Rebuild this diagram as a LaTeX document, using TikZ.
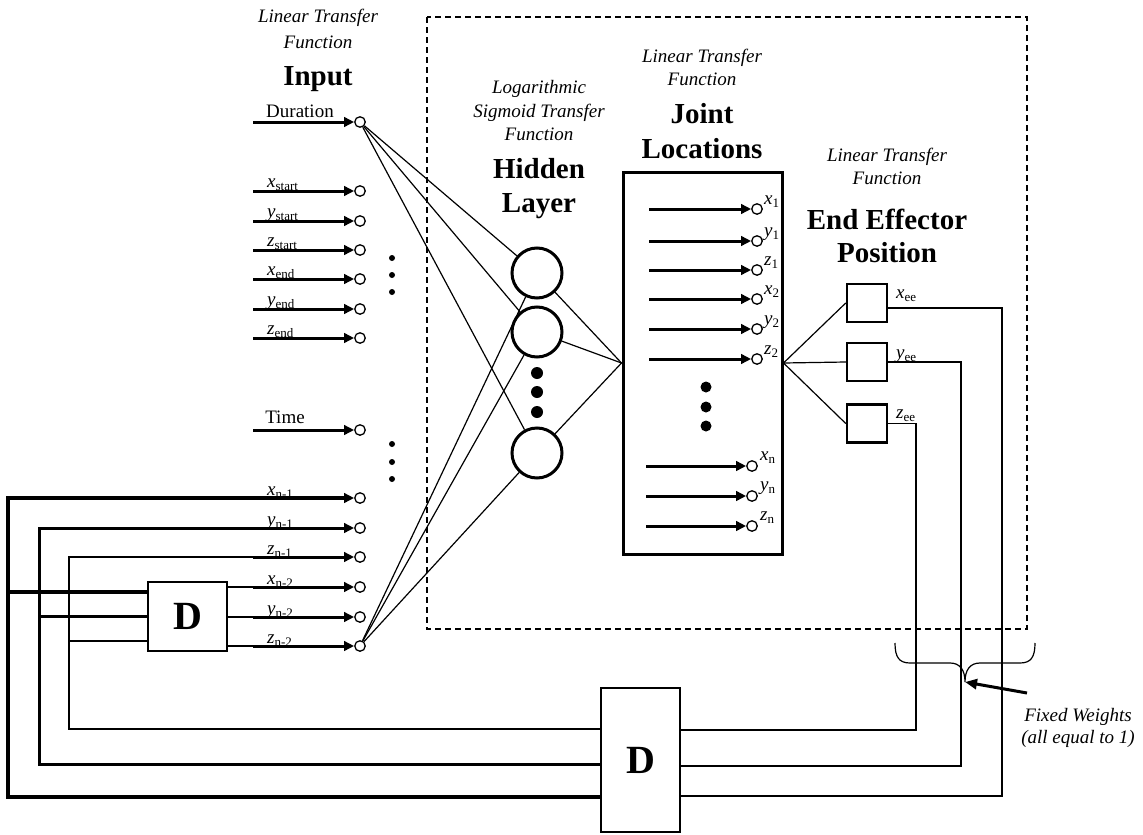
\documentclass[tikz,border=0pt]{standalone}
\usepackage{fontspec}
\setmainfont{Liberation Serif}
\usetikzlibrary{arrows.meta}
\newcommand\fsz[1]{\fontsize{#1}{#1}\selectfont}
\newcommand\vlab[2]{{\fsz{19}\itshape #1}\raisebox{-3pt}{\fsz{13}#2}}
\tikzset{
  thinln/.style={line width=1.2pt},
  medln/.style={line width=1.6pt},
  inarr/.style={line width=3pt,-{Triangle[length=10pt,width=9.5pt]}},
  smallc/.style={circle,draw,line width=1.3pt,minimum size=10.5pt,inner sep=0pt},
  hidc/.style={circle,draw,line width=3pt,minimum size=50pt,inner sep=0pt},
  eeb/.style={draw,line width=2.5pt,minimum width=40pt,minimum height=38pt,inner sep=0pt},
  dbox/.style={draw,line width=1.2pt,inner sep=0pt,font=\fsz{40}\bfseries},
  ital/.style={font=\fsz{19}\itshape,inner sep=0pt,anchor=base},
  head/.style={font=\fsz{29}\bfseries,inner sep=0pt,anchor=base},
  lab/.style={font=\fsz{19},inner sep=0pt,anchor=base west},
  dotb/.style={circle,fill,inner sep=0pt,minimum size=#1},
}
\begin{document}
\begin{tikzpicture}[x=1pt,y=-1pt]
\useasboundingbox (0,0) rectangle (1143,835);

% dashed group box
\draw[line width=2pt,dash pattern=on 6pt off 4pt] (427,17) rectangle (1027,629);

% headers
\node[ital] (t1a) at (318,23) {Linear Transfer};
\node[ital] (t1b) at (318,48) {Function};
\node[head] (t1c) at (318,85) {Input};
\node[ital] (t2a) at (539,93) {Logarithmic};
\node[ital] (t2b) at (539,117) {Sigmoid Transfer};
\node[ital] (t2c) at (539,140) {Function};
\node[head] (t2d) at (539,178) {Hidden};
\node[head] (t2e) at (539,212) {Layer};
\node[ital] (t3a) at (702,62) {Linear Transfer};
\node[ital] (t3b) at (702,85) {Function};
\node[head] (t3c) at (702,123) {Joint};
\node[head] (t3d) at (702,158) {Locations};
\node[ital] (t4a) at (887,161) {Linear Transfer};
\node[ital] (t4b) at (887,184) {Function};
\node[head] (t4c) at (887,229) {End Effector};
\node[head] (t4d) at (887,262) {Position};

% input circles and arrows
\foreach \n/\y in {dur/122,xs/191,ys/221,zs/250,xe/279,ye/309,ze/338,tm/430,ya/528,za/557,xb/587,yb/617,zb/646}{
  \node[smallc] (c\n) at (360,\y) {};
  \coordinate (s\n) at (253,\y);
  \draw[inarr] (s\n) -- (c\n);
}
\node[smallc] (cxa) at (360,498) {};
\coordinate (sxa) at (253,498);
\draw[line width=4pt,-{Triangle[length=10pt,width=9.5pt]}] (sxa) -- (cxa);

% input labels
\node[font=\fsz{19},inner sep=0pt,anchor=base] (ldur) at (300,117) {Duration};
\node[font=\fsz{19},inner sep=0pt,anchor=base] (ltm) at (285,423) {Time};
\node[lab] (lxs) at (267,187) {\vlab{x}{start}};
\node[lab] (lys) at (267,217) {\vlab{y}{start}};
\node[lab] (lzs) at (267,246) {\vlab{z}{start}};
\node[lab] (lxe) at (267,275) {\vlab{x}{end}};
\node[lab] (lye) at (267,305) {\vlab{y}{end}};
\node[lab] (lze) at (267,334) {\vlab{z}{end}};
\node[lab] (lxa) at (267,495) {\vlab{x}{n-1}};
\node[lab] (lya) at (267,525) {\vlab{y}{n-1}};
\node[lab] (lza) at (267,554) {\vlab{z}{n-1}};
\node[lab] (lxb) at (267,584) {\vlab{x}{n-2}};
\node[lab] (lyb) at (267,614) {\vlab{y}{n-2}};
\node[lab] (lzb) at (267,643) {\vlab{z}{n-2}};

% input dots
\foreach \y [count=\i] in {258,275,292,444,462,479}{\node[dotb=6pt] (idot\i) at (392,\y) {};}

% hidden layer
\node[hidc] (h1) at (537,273) {};
\node[hidc] (h2) at (537,332) {};
\node[hidc] (h3) at (537,453) {};
\foreach \y [count=\i] in {373,392,412}{\node[dotb=12pt] (hdot\i) at (537,\y) {};}

% joint box
\node[draw,line width=3pt,minimum width=159pt,minimum height=382pt,inner sep=0pt] (jb) at (702.5,363) {};
\foreach \n/\y/\v/\s in {x1/209/x/1,y1/241/y/1,z1/270/z/1,x2/299/x/2,y2/329/y/2,z2/359/z/2}{
  \node[smallc] (j\n) at (757,\y) {};
  \coordinate (js\n) at (649,\y);
  \draw[inarr] (js\n) -- (j\n);
  \node[lab] (jl\n) at (764,\y-5) {\vlab{\v}{\s}};
}
\foreach \n/\y/\v in {xn/466/x,yn/496/y,zn/526/z}{
  \node[smallc] (j\n) at (752,\y) {};
  \coordinate (js\n) at (646,\y);
  \draw[inarr] (js\n) -- (j\n);
  \node[lab] (jl\n) at (760,\y-6) {\vlab{\v}{n}};
}
\foreach \y [count=\i] in {387,407,426}{\node[dotb=11pt] (jdot\i) at (706,\y) {};}

% connections input -> hidden -> joint
\foreach \h in {h1,h2,h3}{
  \draw[thinln] (cdur) -- (\h);
  \draw[thinln] (czb) -- (\h);
  \draw[thinln] (\h) -- (jb.west);
}

% end effector boxes
\node[eeb] (xee) at (867,303) {};
\node[eeb] (yee) at (867,362) {};
\node[eeb] (zee) at (867,423.5) {};
\foreach \b in {xee,yee,zee}{\draw[thinln] (jb.east) -- (\b.west);}
\node[lab] (lxee) at (896,298) {\vlab{x}{ee}};
\node[lab] (lyee) at (896,358) {\vlab{y}{ee}};
\node[lab] (lzee) at (896,418) {\vlab{z}{ee}};

% delay boxes
\node[dbox,minimum width=79pt,minimum height=69pt] (d1) at (187.5,616.5) {D};
\node[dbox,minimum width=79pt,minimum height=144pt] (d2) at (640.5,760) {D};

% D2 port coordinates
\coordinate (d2iz) at (601,729);
\coordinate (d2iy) at (601,764);
\coordinate (d2ix) at (601,797);
\coordinate (d2oz) at (680,730);
\coordinate (d2oy) at (680,766);
\coordinate (d2ox) at (680,796);
% D1 port coordinates
\coordinate (d1ix) at (148,592);
\coordinate (d1iy) at (148,616);
\coordinate (d1iz) at (148,641);
\coordinate (d1ox) at (227,587);
\coordinate (d1oy) at (227,617);
\coordinate (d1oz) at (227,646);

% feedback into inputs
\draw[line width=4pt] (d2ix) -- (8,797) -- (8,498) -- (sxa);
\draw[line width=3pt] (d2iy) -- (39,764) -- (39,528) -- (sya);
\draw[thinln] (d2iz) -- (69,729) -- (69,557) -- (sza);
\draw[line width=4pt] (6,592) -- (d1ix);
\draw[line width=3pt] (39,616) -- (d1iy);
\draw[thinln] (69,641) -- (d1iz);
\draw[thinln] (d1ox) -- (sxb);
\draw[thinln] (d1oy) -- (syb);
\draw[thinln] (d1oz) -- (szb);

% end effector back to D2
\draw[medln] (xee.east |- 0,308) -- (1002,308) -- (1002,796) -- (d2ox);
\draw[medln] (yee.east) -- (961,362) -- (961,766) -- (d2oy);
\draw[medln] (zee.east) -- (916,423.5) -- (916,730) -- (d2oz);

% brace and fixed weights
\coordinate (bt) at (965,682);
\draw[thinln] (895,643) .. controls (895,657) and (899,663) .. (910,663) -- (950,663)
  .. controls (960,663) and (965,670) .. (bt)
  .. controls (965,670) and (970,663) .. (980,663) -- (1020,663)
  .. controls (1031,663) and (1035,657) .. (1035,643);
\node[ital] (fw1) at (1078,721) {Fixed Weights};
\node[ital] (fw2) at (1078,743) {(all equal to 1)};
\coordinate (fwa) at (1027,693);
\draw[line width=3pt,-{Triangle[length=12pt,width=10pt]}] (fwa) -- (bt);
\end{tikzpicture}
\end{document}
